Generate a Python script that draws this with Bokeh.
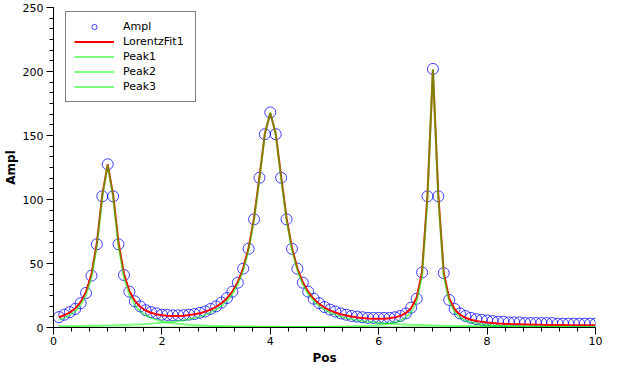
from bokeh.plotting import figure
from bokeh.models import Range1d, Legend, LegendItem, SingleIntervalTicker
from bokeh.embed import file_html
from bokeh.resources import INLINE

pos = [0.1, 0.2, 0.3, 0.4, 0.5, 0.6, 0.7, 0.8, 0.9, 1.0,
       1.1, 1.2, 1.3, 1.4, 1.5, 1.6, 1.7, 1.8, 1.9, 2.0,
       2.1, 2.2, 2.3, 2.4, 2.5, 2.6, 2.7, 2.8, 2.9, 3.0,
       3.1, 3.2, 3.3, 3.4, 3.5, 3.6, 3.7, 3.8, 3.9, 4.0,
       4.1, 4.2, 4.3, 4.4, 4.5, 4.6, 4.7, 4.8, 4.9, 5.0,
       5.1, 5.2, 5.3, 5.4, 5.5, 5.6, 5.7, 5.8, 5.9, 6.0,
       6.1, 6.2, 6.3, 6.4, 6.5, 6.6, 6.7, 6.8, 6.9, 7.0,
       7.1, 7.2, 7.3, 7.4, 7.5, 7.6, 7.7, 7.8, 7.9, 8.0,
       8.1, 8.2, 8.3, 8.4, 8.5, 8.6, 8.7, 8.8, 8.9, 9.0,
       9.1, 9.2, 9.3, 9.4, 9.5, 9.6, 9.7, 9.8, 9.9, 10.0]

ampl = [8.1, 10.0, 12.0, 14.5, 19.0, 27.0, 40.5, 65.0, 102.5, 127.5,
        102.5, 65.0, 41.0, 28.0, 20.5, 16.5, 13.5, 12.0, 11.0, 10.0,
        9.8, 9.5, 9.5, 9.6, 10.0, 10.5, 11.5, 12.5, 14.5, 16.5,
        19.5, 23.0, 28.0, 35.0, 46.0, 61.5, 84.5, 117.0, 151.0, 168.0,
        151.0, 117.0, 84.5, 61.5, 46.0, 35.0, 28.0, 22.5, 19.0, 16.0,
        14.0, 12.5, 11.0, 10.0, 9.0, 8.5, 8.0, 7.5, 7.5, 7.5,
        7.5, 7.5, 8.0, 9.0, 11.0, 15.5, 22.5, 43.0, 102.5, 202.0,
        102.5, 42.5, 21.5, 14.5, 11.0, 9.0, 7.5, 6.5, 6.0, 5.5,
        5.0, 4.5, 4.5, 4.0, 4.0, 4.0, 3.5, 3.5, 3.5, 3.5,
        3.5, 3.5, 3.0, 3.0, 3.0, 3.0, 3.0, 3.0, 3.0, 3.0]

lorentz_fit = [8.0, 9.6, 11.7, 14.9, 19.8, 27.8, 41.5, 66.0, 103.5, 127.5,
               103.6, 66.2, 42.0, 28.5, 20.8, 16.2, 13.3, 11.5, 10.3, 9.5,
               9.1, 8.9, 9.0, 9.2, 9.7, 10.3, 11.2, 12.4, 14.0, 16.2,
               19.0, 22.8, 28.1, 35.5, 46.4, 62.2, 85.5, 117.5, 151.5, 167.5,
               151.5, 117.8, 85.5, 62.2, 46.1, 35.3, 27.8, 22.4, 18.5, 15.6,
               13.4, 11.7, 10.4, 9.4, 8.6, 7.9, 7.4, 7.0, 6.9, 6.8,
               6.9, 7.2, 7.9, 9.1, 11.2, 15.2, 23.3, 43.3, 103.5, 201.5,
               103.2, 42.8, 22.6, 14.2, 10.0, 7.6, 6.1, 5.1, 4.4, 3.9,
               3.5, 3.2, 3.0, 2.8, 2.6, 2.5, 2.4, 2.3, 2.2, 2.1,
               2.05, 2.0, 1.95, 1.9, 1.85, 1.8, 1.8, 1.75, 1.7, 1.7]

peak1 = [6.0, 7.5, 9.6, 12.7, 17.5, 25.4, 39.1, 63.5, 101.6, 127.0,
         101.6, 63.5, 39.1, 25.4, 17.5, 12.7, 9.6, 7.5, 6.0, 4.9,
         4.0, 3.4, 2.9, 2.5, 2.2, 1.9, 1.7, 1.5, 1.3, 1.2,
         1.1, 1.0, 0.95, 0.87, 0.80, 0.74, 0.69, 0.64, 0.60, 0.56,
         0.53, 0.49, 0.46, 0.44, 0.41, 0.39, 0.37, 0.35, 0.33, 0.32,
         0.30, 0.29, 0.27, 0.26, 0.25, 0.24, 0.23, 0.22, 0.21, 0.20,
         0.19, 0.19, 0.18, 0.17, 0.17, 0.16, 0.15, 0.15, 0.14, 0.14,
         0.14, 0.13, 0.13, 0.12, 0.12, 0.11, 0.11, 0.11, 0.10, 0.10,
         0.10, 0.10, 0.09, 0.09, 0.09, 0.09, 0.08, 0.08, 0.08, 0.08,
         0.08, 0.07, 0.07, 0.07, 0.07, 0.07, 0.07, 0.06, 0.06, 0.06]

peak2 = [0.99, 1.04, 1.10, 1.16, 1.22, 1.30, 1.38, 1.46, 1.56, 1.66,
         1.78, 1.91, 2.05, 2.21, 2.39, 2.58, 2.81, 3.07, 3.36, 3.70,
         4.09, 4.54, 5.07, 5.71, 6.46, 7.37, 8.49, 9.88, 11.64, 13.9,
         16.8, 20.7, 26.1, 33.6, 44.5, 60.5, 84.0, 116.3, 151.2, 168.0,
         151.2, 116.3, 84.0, 60.5, 44.5, 33.6, 26.1, 20.7, 16.8, 13.9,
         11.64, 9.88, 8.49, 7.37, 6.46, 5.71, 5.07, 4.54, 4.09, 3.70,
         3.36, 3.07, 2.81, 2.58, 2.39, 2.21, 2.05, 1.91, 1.78, 1.66,
         1.56, 1.46, 1.38, 1.30, 1.22, 1.16, 1.10, 1.04, 0.99, 0.94,
         0.89, 0.85, 0.81, 0.78, 0.74, 0.71, 0.68, 0.65, 0.63, 0.60,
         0.58, 0.56, 0.54, 0.52, 0.50, 0.48, 0.46, 0.45, 0.43, 0.42]

peak3 = [0.04, 0.04, 0.04, 0.04, 0.05, 0.05, 0.05, 0.05, 0.05, 0.06,
         0.06, 0.06, 0.06, 0.06, 0.06, 0.07, 0.07, 0.07, 0.07, 0.08,
         0.08, 0.08, 0.08, 0.09, 0.09, 0.10, 0.10, 0.11, 0.11, 0.12,
         0.13, 0.14, 0.14, 0.15, 0.16, 0.17, 0.19, 0.20, 0.21, 0.22,
         0.24, 0.26, 0.28, 0.30, 0.32, 0.35, 0.38, 0.42, 0.46, 0.50,
         0.56, 0.62, 0.70, 0.79, 0.89, 1.02, 1.18, 1.39, 1.65, 2.0,
         2.47, 3.11, 4.04, 5.46, 7.77, 11.9, 20.2, 40.4, 101.0, 202.0,
         101.0, 40.4, 20.2, 11.9, 7.77, 5.46, 4.04, 3.11, 2.47, 2.0,
         1.65, 1.39, 1.18, 1.02, 0.89, 0.79, 0.70, 0.62, 0.56, 0.50,
         0.46, 0.42, 0.38, 0.35, 0.32, 0.30, 0.28, 0.26, 0.24, 0.22]

FONT = "DejaVu Sans"

p = figure(width=603, height=367, output_backend="svg", toolbar_location=None,
           x_range=Range1d(0, 10), y_range=Range1d(0, 250),
           min_border_left=44, min_border_right=8, min_border_top=7, min_border_bottom=38,
           x_axis_label="Pos", y_axis_label="Ampl")
p.outline_line_color = None
p.grid.visible = False
p.background_fill_color = "white"
p.border_fill_color = "white"

p.xaxis.ticker = SingleIntervalTicker(interval=2, num_minor_ticks=6)
p.yaxis.ticker = SingleIntervalTicker(interval=50, num_minor_ticks=6)
for ax in (p.xaxis[0], p.yaxis[0]):
    ax.axis_line_color = "black"
    ax.major_tick_line_color = "black"
    ax.minor_tick_line_color = "black"
    ax.major_tick_out = 7
    ax.major_tick_in = 0
    ax.minor_tick_out = 4
    ax.minor_tick_in = 0
    ax.major_label_text_font = FONT
    ax.major_label_text_font_size = "11px"
    ax.major_label_text_color = "black"
    ax.axis_label_text_font = FONT
    ax.axis_label_text_font_size = "12px"
    ax.axis_label_text_font_style = "bold"
    ax.axis_label_text_color = "black"
p.xaxis.major_label_standoff = 2
p.yaxis.major_label_standoff = 3
p.xaxis.axis_label_standoff = 3
p.yaxis.axis_label_standoff = 2

r_data = p.scatter(pos, ampl, marker="circle", size=11, fill_color=None,
                   line_color="#0000ff", line_alpha=0.75, line_width=1)
r_fit = p.line(pos, lorentz_fit, line_color="#ff0000", line_width=2)
r_p1 = p.line(pos, peak1, line_color="#00ff00", line_alpha=0.5, line_width=2)
r_p2 = p.line(pos, peak2, line_color="#00ff00", line_alpha=0.5, line_width=2)
r_p3 = p.line(pos, peak3, line_color="#00ff00", line_alpha=0.5, line_width=2)

legend = Legend(items=[
    LegendItem(label="Ampl", renderers=[r_data]),
    LegendItem(label="LorentzFit1", renderers=[r_fit]),
    LegendItem(label="Peak1", renderers=[r_p1]),
    LegendItem(label="Peak2", renderers=[r_p2]),
    LegendItem(label="Peak3", renderers=[r_p3]),
], location=(12, 225))
legend.border_line_color = "black"
legend.border_line_width = 1
legend.background_fill_color = "white"
legend.background_fill_alpha = 1
legend.label_text_font = FONT
legend.label_text_font_size = "11px"
legend.label_text_color = "black"
legend.glyph_width = 40
legend.glyph_height = 13
legend.label_height = 13
legend.label_width = 64
legend.label_standoff = 9
legend.spacing = 2
legend.padding = 8
legend.margin = 0
p.add_layout(legend)

open("out.html", "w").write(file_html(p, INLINE))
